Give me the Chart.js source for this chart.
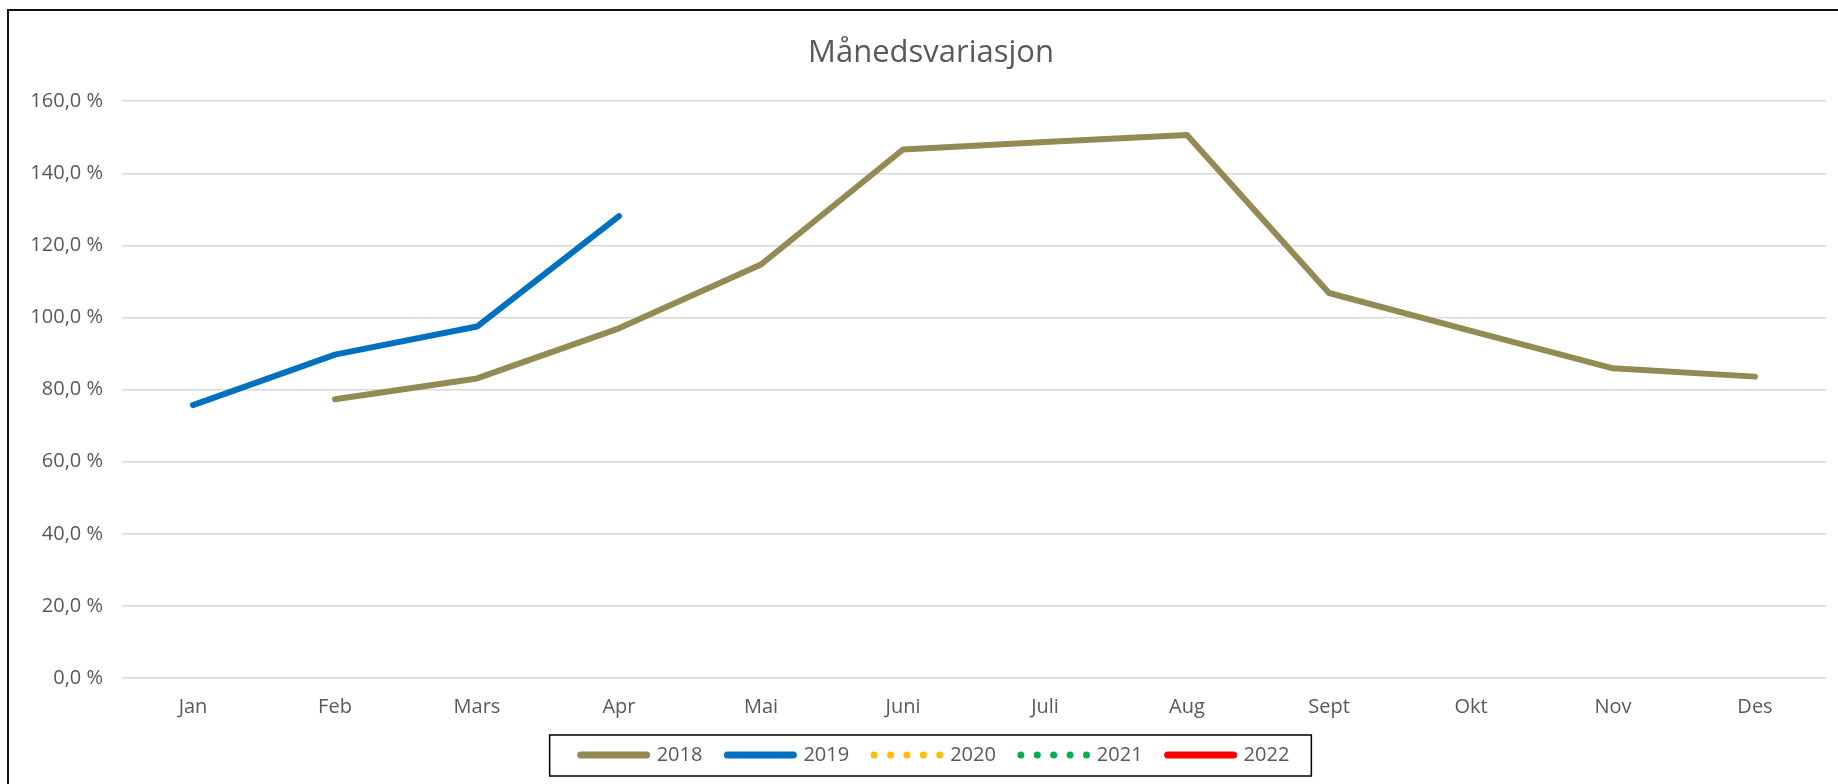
<!DOCTYPE html>
<html>
<head>
<meta charset="utf-8">
<script src="https://cdn.jsdelivr.net/npm/chart.js@4"></script>
<style>
  html, body { margin: 0; padding: 0; background: #fff; }
  #wrap { position: relative; width: 1838px; height: 784px; }
</style>
</head>
<body>
<div id="wrap"><canvas id="myChart" width="1838" height="784"></canvas></div>
<script>
  // months on the x axis
  const maaneder = ['Jan', 'Feb', 'Mars', 'Apr', 'Mai', 'Juni', 'Juli', 'Aug', 'Sept', 'Okt', 'Nov', 'Des'];

  // monthly variation in percent
  const aar2018 = [null, 77.3, 83.1, 97.0, 114.7, 146.6, 148.7, 150.6, 106.8, 96.3, 85.9, 83.6];
  const aar2019 = [75.7, 89.7, 97.5, 128.1, null, null, null, null, null, null, null, null];
  const aar2020 = [null, null, null, null, null, null, null, null, null, null, null, null];
  const aar2021 = [null, null, null, null, null, null, null, null, null, null, null, null];
  const aar2022 = [null, null, null, null, null, null, null, null, null, null, null, null];

  const yTicks = [0, 20, 40, 60, 80, 100, 120, 140, 160];

  const tekstFarge = '#595959';
  const fontFamily = "'Open Sans', 'Noto Sans', sans-serif";

  function linje(label, data, farge, dash) {
    return {
      label: label,
      data: data,
      borderColor: farge,
      backgroundColor: farge,
      borderWidth: 6,
      borderCapStyle: 'round',
      borderJoinStyle: 'round',
      borderDash: dash || [],
      pointRadius: 0,
      pointHoverRadius: 0,
      tension: 0,
      fill: false
    };
  }

  // the original chart is a bit wider than the picture, so title and legend sit right of centre
  const flyttPlugin = {
    id: 'flytt',
    afterUpdate(chart) {
      const t = chart.titleBlock;
      if (t) { t.left += 18; t.right += 18; }
      const lg = chart.legend;
      if (lg) {
        lg.left += 22; lg.right += 22;
        (lg.legendHitBoxes || []).forEach(function (b) { b.left += 22; });
      }
    }
  };

  // frame round the chart and the box round the legend
  const rammePlugin = {
    id: 'ramme',
    afterDraw(chart) {
      const ctx = chart.ctx;
      ctx.save();
      ctx.strokeStyle = '#111';
      ctx.lineWidth = 2;
      ctx.beginPath();
      ctx.moveTo(8, chart.height);
      ctx.lineTo(8, 10);
      ctx.lineTo(chart.width, 10);
      ctx.stroke();

      const boxes = chart.legend.legendHitBoxes;
      if (boxes && boxes.length) {
        const first = boxes[0];
        const last = boxes[boxes.length - 1];
        const left = first.left - 31;
        const right = last.left + last.width + 22;
        const midY = first.top + first.height / 2;
        ctx.lineWidth = 1.5;
        ctx.strokeStyle = '#000';
        ctx.strokeRect(left, midY - 20, right - left, 41);
      }
      ctx.restore();
    }
  };

  const data = {
    labels: maaneder,
    datasets: [
      linje('2018', aar2018, '#948A54'),
      linje('2019', aar2019, '#0070C0'),
      linje('2020', aar2020, '#FFC000', [0, 16.4]),
      linje('2021', aar2021, '#00B050', [0, 16.4]),
      linje('2022', aar2022, '#FF0000')
    ]
  };

  const config = {
    type: 'line',
    data: data,
    options: {
      responsive: false,
      animation: false,
      layout: {
        padding: { left: 0, right: 12, top: 0, bottom: 9 }
      },
      plugins: {
        title: {
          display: true,
          text: 'Månedsvariasjon',
          color: tekstFarge,
          font: { family: fontFamily, size: 31, weight: 'normal' },
          padding: { top: 35, bottom: 29 }
        },
        legend: {
          position: 'bottom',
          labels: {
            usePointStyle: true,
            pointStyle: 'line',
            pointStyleWidth: 66,
            color: tekstFarge,
            font: { family: fontFamily, size: 20 },
            padding: 25,
            generateLabels: function (chart) {
              const items = Chart.defaults.plugins.legend.labels.generateLabels(chart);
              items.forEach(function (it) {
                const ds = chart.data.datasets[it.datasetIndex];
                it.lineDash = ds.borderDash;
                it.lineCap = 'round';
                it.lineWidth = 7;
                it.strokeStyle = ds.borderColor;
              });
              return items;
            }
          }
        },
        tooltip: { enabled: false }
      },
      scales: {
        x: {
          offset: true,
          afterFit: function (scale) { scale.height = 42; },
          grid: { display: false, drawTicks: false },
          border: { display: false },
          ticks: {
            color: tekstFarge,
            font: { family: fontFamily, size: 20 },
            padding: 17.5,
            maxRotation: 0,
            autoSkip: false
          }
        },
        y: {
          min: 0,
          max: 160,
          afterFit: function (scale) { scale.width = 122; },
          afterBuildTicks: function (scale) {
            scale.ticks = yTicks.map(function (v) { return { value: v }; });
          },
          grid: { color: '#d9d9d9', lineWidth: 1.5, drawTicks: false },
          border: { display: false },
          ticks: {
            color: tekstFarge,
            font: { family: fontFamily, size: 20 },
            padding: 19,
            callback: function (v) { return v.toFixed(1).replace('.', ',') + ' %'; }
          }
        }
      }
    },
    plugins: [flyttPlugin, rammePlugin]
  };

  const myChart = new Chart(document.getElementById('myChart'), config);
</script>
</body>
</html>
